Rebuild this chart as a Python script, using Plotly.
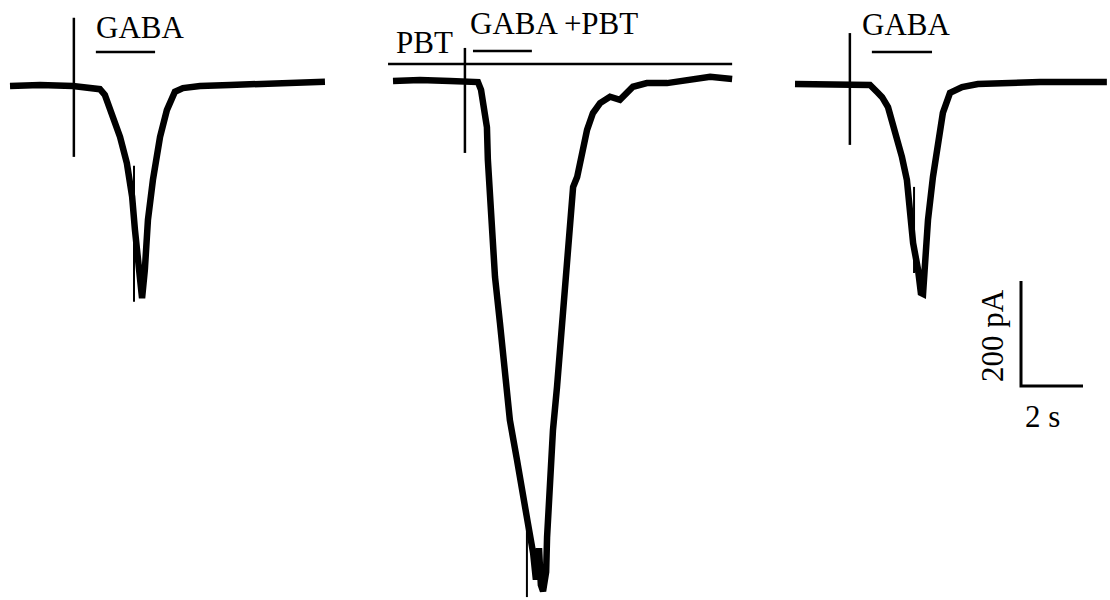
import plotly.graph_objects as go

# ---------------------------------------------------------------
# Whole-cell currents evoked by GABA, before / with / after PBT
# time in s from sweep start, current in pA relative to holding
# ---------------------------------------------------------------
t_ctrl = [0.00, 0.97, 2.03, 2.90, 3.06, 3.29, 3.55, 3.77, 3.94, 4.03, 4.13, 4.19,
          4.26, 4.35, 4.45, 4.61, 4.84, 5.06, 5.32, 5.58, 6.13, 7.10, 8.06, 9.03, 10.16]
i_ctrl = [0, 2, 0, -6, -17, -51, -97, -147, -211, -274, -326, -379,
          -404, -350, -255, -179, -97, -46, -11, -4, 0, 2, 4, 6, 8]

t_pbt = [0.00, 0.87, 1.84, 2.32, 2.74, 2.84, 2.90, 3.03, 3.06, 3.19, 3.29, 3.45,
         3.61, 3.77, 4.00, 4.16, 4.35, 4.52, 4.61, 4.71, 4.77, 4.84, 4.94, 4.97,
         5.06, 5.16, 5.29, 5.45, 5.65, 5.81, 5.94, 6.10, 6.26, 6.45, 6.68, 7.00,
         7.32, 7.74, 8.19, 8.84, 9.68, 10.23, 10.94]
i_pbt = [0, 2, 0, 0, -2, -17, -36, -88, -150, -278, -373, -461,
         -550, -646, -722, -785, -842, -899, -950, -890, -960, -972, -935, -869,
         -773, -665, -583, -461, -309, -202, -183, -131, -93, -61, -42, -30,
         -36, -11, -4, -4, 2, 8, 4]

t_wash = [0.00, 0.81, 1.77, 2.42, 2.68, 2.81, 3.00, 3.23, 3.45, 3.61, 3.71, 3.81,
          3.97, 4.06, 4.13, 4.19, 4.29, 4.45, 4.61, 4.77, 5.00, 5.39, 5.90, 6.61,
          7.90, 8.87, 10.06]
i_wash = [0, 0, 0, -2, -17, -25, -44, -88, -139, -183, -240, -303,
          -354, -398, -400, -354, -259, -177, -112, -55, -17, -6, 0, 2,
          4, 4, 4]

# fast transient at the peak of each response (t, from pA, to pA)
spike_t = [4.00, 4.32, 3.84]
spike_from = [-152, -842, -196]
spike_to = [-411, -983, -360]

# stimulus artefact: time and extent above / below holding (pA)
stim_t = [2.06, 2.32, 1.77]
stim_up = [130, 63, 97]
stim_down = [-135, -137, -116]

# drug application windows (s)
gaba_on = [2.77, 2.58, 2.48]
gaba_off = [4.68, 4.48, 4.42]
pbt_on, pbt_off = -0.16, 10.94

labels = ["GABA", "GABA +PBT", "GABA"]

# scale bar
scale_t = 2      # s
scale_i = 200    # pA

# ---------------------------------------------------------------
# page geometry
# ---------------------------------------------------------------
W, H = 1110, 600
PX_PER_S = 31.0
PX_PER_PA = 0.525

panel_left = [10, 393, 795]      # px, start of each sweep
panel_base = [86, 81, 84]        # px, holding level of each sweep
gaba_bar_y = [52, 51, 52]        # px
pbt_bar_y = 64                   # px


def X(px):
    return px / PX_PER_S


def Y(py):
    return -py / PX_PER_PA


traces_t = [t_ctrl, t_pbt, t_wash]
traces_i = [i_ctrl, i_pbt, i_wash]

fig = go.Figure()
BLACK = "#000000"

for k in range(3):
    x0 = X(panel_left[k])
    y0 = Y(panel_base[k])
    # stimulus artefact
    fig.add_trace(go.Scatter(
        x=[x0 + stim_t[k]] * 2, y=[y0 + stim_up[k], y0 + stim_down[k]],
        mode="lines", line=dict(color=BLACK, width=2.5), hoverinfo="skip"))
    # current trace
    fig.add_trace(go.Scatter(
        x=[x0 + t for t in traces_t[k]], y=[y0 + v for v in traces_i[k]],
        mode="lines", line=dict(color=BLACK, width=6.5, shape="linear"),
        hoverinfo="skip"))
    # fast transient
    fig.add_trace(go.Scatter(
        x=[x0 + spike_t[k]] * 2, y=[y0 + spike_from[k], y0 + spike_to[k]],
        mode="lines", line=dict(color=BLACK, width=2), hoverinfo="skip"))
    # GABA application bar
    fig.add_trace(go.Scatter(
        x=[x0 + gaba_on[k], x0 + gaba_off[k]], y=[Y(gaba_bar_y[k])] * 2,
        mode="lines", line=dict(color=BLACK, width=2.5), hoverinfo="skip"))

# PBT application bar
x0 = X(panel_left[1])
fig.add_trace(go.Scatter(
    x=[x0 + pbt_on, x0 + pbt_off], y=[Y(pbt_bar_y)] * 2,
    mode="lines", line=dict(color=BLACK, width=2.5), hoverinfo="skip"))

# scale bar
sx, sy = X(1021), Y(386)
fig.add_trace(go.Scatter(
    x=[sx, sx, sx + scale_t], y=[sy + scale_i, sy, sy],
    mode="lines", line=dict(color=BLACK, width=3), hoverinfo="skip"))

FONT = dict(family="Liberation Serif, Times New Roman, serif", size=31, color=BLACK)


def label(text, cx, cy, angle=0):
    fig.add_annotation(x=X(cx), y=Y(cy), text=text, showarrow=False,
                       xanchor="center", yanchor="middle", textangle=angle,
                       font=FONT)


label(labels[0], 140, 27)
label("PBT", 424, 42)
label(labels[1], 554, 23)
label(labels[2], 906, 24)
label(f"{scale_i} pA", 992, 336, angle=-90)
label(f"{scale_t} s", 1042, 416)

fig.update_layout(
    width=W, height=H, autosize=False,
    margin=dict(l=0, r=0, t=0, b=0),
    paper_bgcolor="white", plot_bgcolor="white",
    showlegend=False,
    xaxis=dict(range=[0, X(W)], visible=False, fixedrange=True),
    yaxis=dict(range=[Y(H), 0], visible=False, fixedrange=True),
)

fig.write_html("out.html", config={"displayModeBar": False})
